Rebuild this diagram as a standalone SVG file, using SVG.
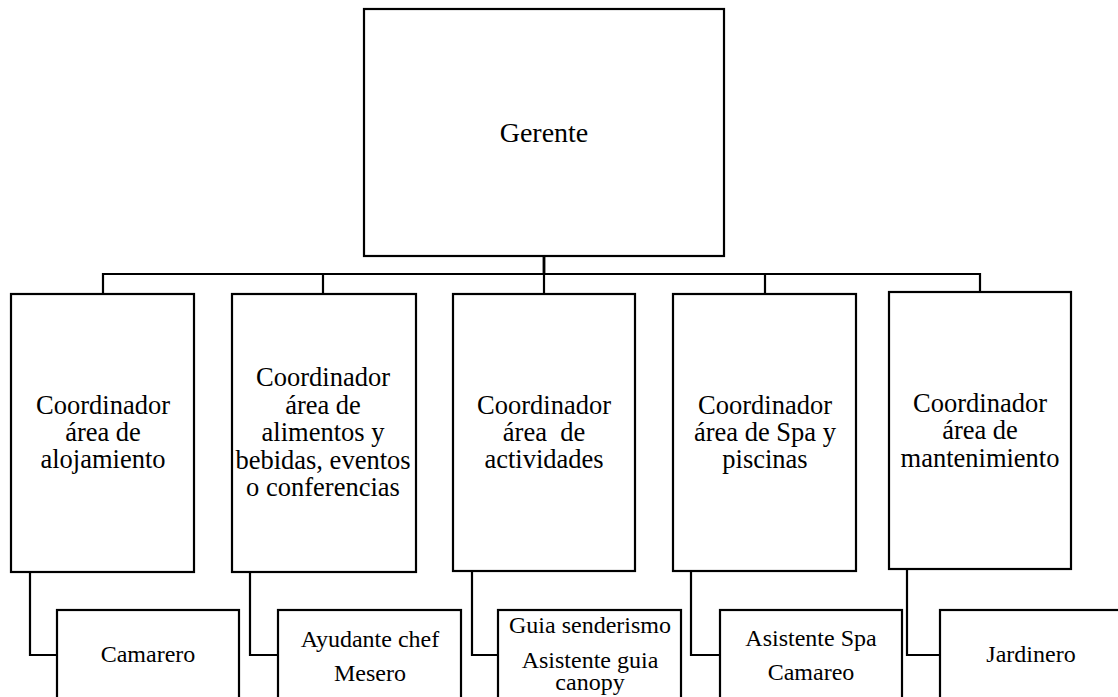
<svg xmlns="http://www.w3.org/2000/svg" width="1118" height="697" viewBox="0 0 1118 697" font-family="'Liberation Serif', 'Times New Roman', serif">
<style>
.box{fill:#fff;stroke:#000;stroke-width:2.2}
.con{fill:none;stroke:#000;stroke-width:2.2}
text{font-family:'Liberation Serif','Times New Roman',serif;fill:#000;text-anchor:middle}
.t1{font-size:28px}
.t2{font-size:26.5px}
.t3{font-size:24px}
</style>
<rect width="1118" height="697" fill="#fff"/>
<g id="connectors">
<path class="con" d="M544 256 V274 H103 V294"/>
<path class="con" d="M544 256 V274 H323 V294"/>
<path class="con" d="M544 256 V294"/>
<path class="con" d="M544 256 V274 H765 V294"/>
<path class="con" d="M544 256 V274 H980 V292"/>
<path class="con" d="M30 572 V655 H57"/>
<path class="con" d="M250 572 V655 H278"/>
<path class="con" d="M472 571 V655 H498"/>
<path class="con" d="M691 571 V655 H720"/>
<path class="con" d="M907 569 V655 H940"/>
</g>
<g id="gerente">
<rect class="box" x="364" y="9" width="360" height="247"/>
<text class="t1" x="544" y="142">Gerente</text>
</g>
<g id="coord-alojamiento">
<rect class="box" x="11" y="294" width="183" height="278"/>
<text class="t2" x="103" y="414">Coordinador</text>
<text class="t2" x="103" y="441">área de</text>
<text class="t2" x="103" y="468">alojamiento</text>
</g>
<g id="coord-alimentos">
<rect class="box" x="232" y="294" width="184" height="278"/>
<text class="t2" x="323" y="386">Coordinador</text>
<text class="t2" x="323" y="413.5">área de</text>
<text class="t2" x="323" y="441">alimentos y</text>
<text class="t2" x="323" y="468.5">bebidas, eventos</text>
<text class="t2" x="323" y="496">o conferencias</text>
</g>
<g id="coord-actividades">
<rect class="box" x="453" y="294" width="182" height="277"/>
<text class="t2" x="544" y="414">Coordinador</text>
<text class="t2" x="544" y="441" xml:space="preserve">área  de</text>
<text class="t2" x="544" y="468">actividades</text>
</g>
<g id="coord-spa">
<rect class="box" x="673" y="294" width="183" height="277"/>
<text class="t2" x="765" y="414">Coordinador</text>
<text class="t2" x="765" y="441">área de Spa y</text>
<text class="t2" x="765" y="468">piscinas</text>
</g>
<g id="coord-mantenimiento">
<rect class="box" x="889" y="292" width="182" height="277"/>
<text class="t2" x="980" y="412">Coordinador</text>
<text class="t2" x="980" y="439">área de</text>
<text class="t2" x="980" y="467">mantenimiento</text>
</g>
<g id="camarero">
<rect class="box" x="57" y="610" width="182" height="110"/>
<text class="t3" x="148" y="662">Camarero</text>
</g>
<g id="ayudante">
<rect class="box" x="278" y="610" width="183" height="110"/>
<text class="t3" x="370" y="647">Ayudante chef</text>
<text class="t3" x="370" y="681">Mesero</text>
</g>
<g id="guia">
<rect class="box" x="498" y="610" width="183" height="110"/>
<text class="t3" x="590" y="633">Guia senderismo</text>
<text class="t3" x="590" y="668">Asistente guia</text>
<text class="t3" x="590" y="690">canopy</text>
</g>
<g id="asistente-spa">
<rect class="box" x="720" y="610" width="182" height="110"/>
<text class="t3" x="811" y="646">Asistente Spa</text>
<text class="t3" x="811" y="680">Camareo</text>
</g>
<g id="jardinero">
<rect class="box" x="940" y="610" width="200" height="110"/>
<text class="t3" x="1031" y="662">Jardinero</text>
</g>
</svg>
